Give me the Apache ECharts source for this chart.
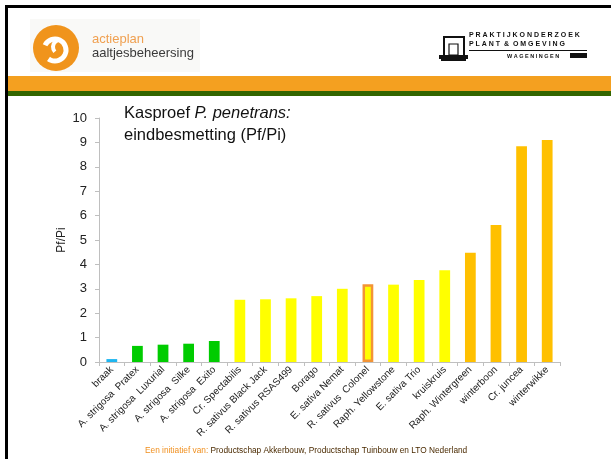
<!DOCTYPE html>
<html>
<head>
<meta charset="utf-8">
<script src="https://cdn.jsdelivr.net/npm/echarts@6/dist/echarts.min.js"></script>
<style>html,body{margin:0;padding:0;background:#fff}#c{width:611px;height:459px}</style>
</head>
<body>
<div id="c"></div>
<script>
const categories = ['braak','A. strigosa  Pratex','A. strigosa  Luxurial','A. strigosa  Silke','A. strigosa  Exito','Cr. Spectabilis','R. sativus Black Jack','R. sativus RSAS499','Borago','E. sativa Nemat','R. sativus  Colonel','Raph. Yellowstone','E. sativa Trio','kruiskruis','Raph. Wintergreen','winterboon','Cr. juncea','winterwikke'];
const values = [0.12,0.66,0.71,0.75,0.86,2.55,2.57,2.61,2.70,3.00,3.19,3.17,3.36,3.76,4.48,5.61,8.84,9.10];
const groups = ['blue','green','green','green','green','yellow','yellow','yellow','yellow','yellow','yellowOutlined','yellow','yellow','yellow','orange','orange','orange','orange'];
const yTicks = [0,1,2,3,4,5,6,7,8,9,10];

const palette = {blue:'#1fb6f0', green:'#00cc00', yellow:'#ffff00', yellowOutlined:'#ffff00', orange:'#ffc000'};
const data = values.map((v,i)=>{
  const g = groups[i];
  const o = {value:v, itemStyle:{color:palette[g]}};
  if (g==='yellowOutlined') { o.itemStyle.borderColor = '#f39436'; o.itemStyle.borderWidth = 2.5; }
  return o;
});

const chart = echarts.init(document.getElementById('c'), null, {renderer:'canvas'});
const F = 'Liberation Sans, Arial, sans-serif';
chart.setOption({
  animation:false,
  textStyle:{fontFamily:F},
  grid:{left:99, right:51, top:118, bottom:97, containLabel:false},
  xAxis:{
    type:'category', data:categories,
    axisLine:{lineStyle:{color:'#bfbfbf', width:1}},
    axisTick:{show:true, length:4, lineStyle:{color:'#bfbfbf'}},
    axisLabel:{rotate:45, interval:0, fontSize:10, color:'#222', fontFamily:F, margin:6}
  },
  yAxis:{
    type:'value', min:yTicks[0], max:yTicks[yTicks.length-1], interval:1,
    name:'Pf/Pi', nameLocation:'middle', nameGap:31, nameRotate:90, nameMoveOverlap:false,
    nameTextStyle:{fontSize:12, color:'#222', fontFamily:F},
    axisLine:{show:true, lineStyle:{color:'#bfbfbf'}},
    axisTick:{show:true, length:4, lineStyle:{color:'#bfbfbf'}},
    splitLine:{show:false},
    axisLabel:{fontSize:13, color:'#222', fontFamily:F, margin:12}
  },
  series:[{type:'bar', data:data, barWidth:'42%'}],
  graphic:[
    // slide border
    {type:'rect', shape:{x:5,y:5,width:3,height:454}, style:{fill:'#000'}},
    {type:'rect', shape:{x:5,y:5,width:606,height:3}, style:{fill:'#000'}},
    // bands
    {type:'rect', shape:{x:8,y:76,width:603,height:15}, style:{fill:'#f4a020'}},
    {type:'rect', shape:{x:8,y:91,width:603,height:5}, style:{fill:'#336600'}},
    // left logo
    {type:'rect', shape:{x:30,y:19,width:170,height:53}, style:{fill:'#f9f9f7'}},
    {type:'circle', shape:{cx:56,cy:48,r:23}, style:{fill:'#f0941c'}},
    {type:'arc', shape:{cx:55,cy:50,r:11,startAngle:-2.7,endAngle:2.2}, style:{stroke:'#fff', lineWidth:5, fill:null}},
    {type:'arc', shape:{cx:60,cy:47,r:7,startAngle:2.4,endAngle:4.5}, style:{stroke:'#fff', lineWidth:4, fill:null}},
    {type:'text', left:92, top:33, style:{text:'actieplan', fill:'#f0a050', font:'13px '+F}},
    {type:'text', left:92, top:47, style:{text:'aaltjesbeheersing', fill:'#3a3a3a', font:'13px '+F}},
    // right logo icon
    {type:'rect', shape:{x:443,y:36,width:22,height:2}, style:{fill:'#111'}},
    {type:'rect', shape:{x:443,y:36,width:2,height:20}, style:{fill:'#111'}},
    {type:'rect', shape:{x:463,y:36,width:2,height:20}, style:{fill:'#111'}},
    {type:'rect', shape:{x:449,y:44,width:9,height:11}, style:{fill:'none', stroke:'#111', lineWidth:1.2}},
    {type:'rect', shape:{x:439,y:55,width:29,height:4}, style:{fill:'#111'}},
    {type:'rect', shape:{x:441,y:59,width:25,height:2}, style:{fill:'#111'}},
    {type:'text', left:469, top:32, style:{text:'P R A K T I J K O N D E R Z O E K', fill:'#111', font:'bold 7px '+F}},
    {type:'text', left:469, top:41, style:{text:'P L A N T  &  O M G E V I N G', fill:'#111', font:'bold 7px '+F}},
    {type:'rect', shape:{x:469,y:50,width:118,height:1}, style:{fill:'#111'}},
    {type:'text', left:507, top:53, style:{text:'W A G E N I N G E N', fill:'#111', font:'bold 5.5px '+F}},
    {type:'rect', shape:{x:570,y:53,width:17,height:5}, style:{fill:'#111'}},
    // chart title
    {type:'text', left:124, top:102, style:{text:'Kasproef {i|P. penetrans:}\neindbesmetting (Pf/Pi)', fill:'#111', font:'16.5px '+F, lineHeight:22,
      rich:{i:{fontStyle:'italic', fontSize:16.5, fontFamily:F, fill:'#111'}}}},
    // footer
    {type:'text', left:145, top:447, style:{text:'{a|Een initiatief van: }{b|Productschap Akkerbouw, Productschap Tuinbouw en LTO Nederland}', font:'8.3px '+F,
      rich:{a:{fill:'#f09020', fontSize:8.3, fontFamily:F}, b:{fill:'#4a2a00', fontSize:8.3, fontFamily:F}}}}
  ]
});
</script>
</body>
</html>
